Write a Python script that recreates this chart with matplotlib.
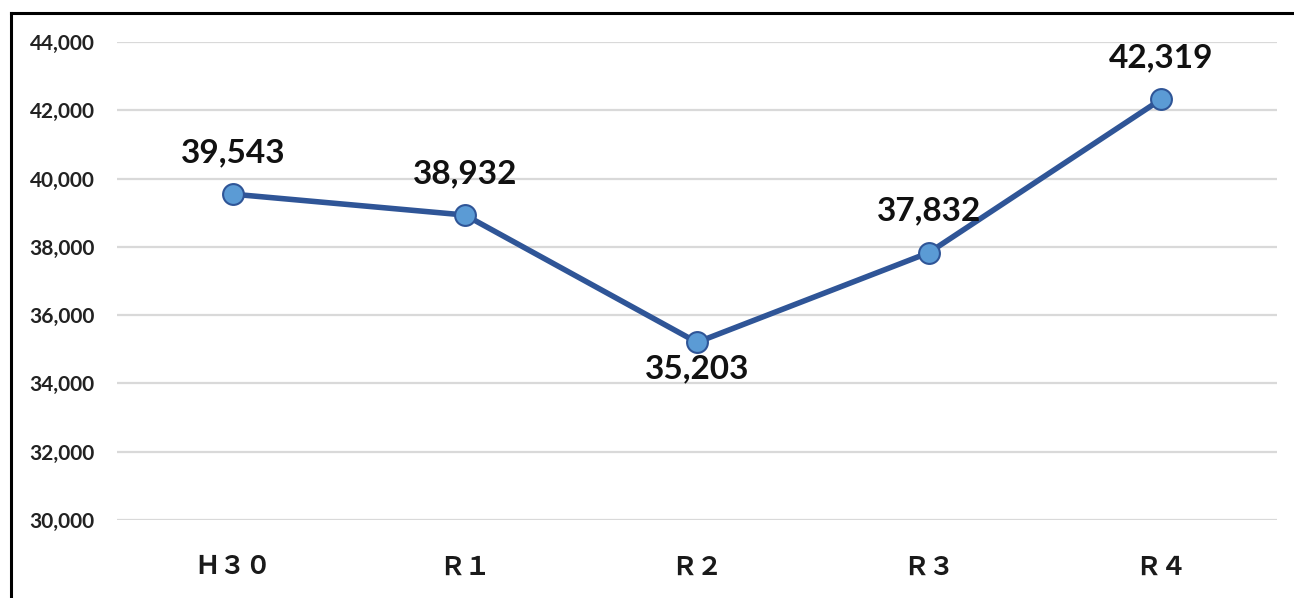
import matplotlib.pyplot as plt
from matplotlib.lines import Line2D
from matplotlib.ticker import FuncFormatter

# データ
years = ['Ｈ３０', 'Ｒ１', 'Ｒ２', 'Ｒ３', 'Ｒ４']
values = [39543, 38932, 35203, 37832, 42319]
label_below = [False, False, True, False, False]
y_ticks = [30000, 32000, 34000, 36000, 38000, 40000, 42000, 44000]

line_color = '#2F5597'
marker_color = '#5B9BD5'

fig = plt.figure(figsize=(12.94, 5.98), dpi=100)
ax = fig.add_axes([117 / 1294, 1 - 520 / 598, 1160 / 1294, 478 / 598])

x = list(range(len(years)))
ax.plot(x, values, color=line_color, linewidth=4, marker='o', markersize=15,
        markerfacecolor=marker_color, markeredgecolor=line_color, markeredgewidth=1.5,
        zorder=3)

for xi, v, below in zip(x, values, label_below):
    off = -19 if below else 30
    ax.annotate(f'{v:,}', (xi, v), xytext=(0, off), textcoords='offset points',
                ha='center', va='center', fontsize=24, fontweight='bold',
                family=['Lato', 'DejaVu Sans'], color='#111111')

ax.set_xlim(-0.5, len(years) - 0.5)
ax.set_ylim(30000, 44000)
ax.set_yticks(y_ticks)
ax.yaxis.set_major_formatter(FuncFormatter(lambda v, p: f'{int(v):,}'))
ax.set_xticks(x)
ax.set_xticklabels(years, family=['Noto Sans CJK JP', 'DejaVu Sans'], fontsize=18.5,
                   fontweight='bold', color='#1a1a1a')
for lbl in ax.get_yticklabels():
    lbl.set_family(['Lato', 'DejaVu Sans'])
    lbl.set_fontsize(15)
    lbl.set_fontweight('bold')
    lbl.set_color('#222222')

ax.tick_params(axis='y', length=0, pad=16)
ax.tick_params(axis='x', length=0, pad=24)
ax.grid(axis='y', color='#D9D9D9', linewidth=1.6)
ax.set_axisbelow(True)
for s in ax.spines.values():
    s.set_visible(False)

# 外枠（上・左）
top_y = 1 - 12.5 / 598
left_x = 10.5 / 1294
fig.add_artist(Line2D([left_x, 1], [top_y, top_y], color='black', linewidth=2.2,
                      transform=fig.transFigure))
fig.add_artist(Line2D([left_x, left_x], [0, top_y], color='black', linewidth=2.2,
                      transform=fig.transFigure))

fig.savefig('out.png', dpi=100, facecolor='white')
